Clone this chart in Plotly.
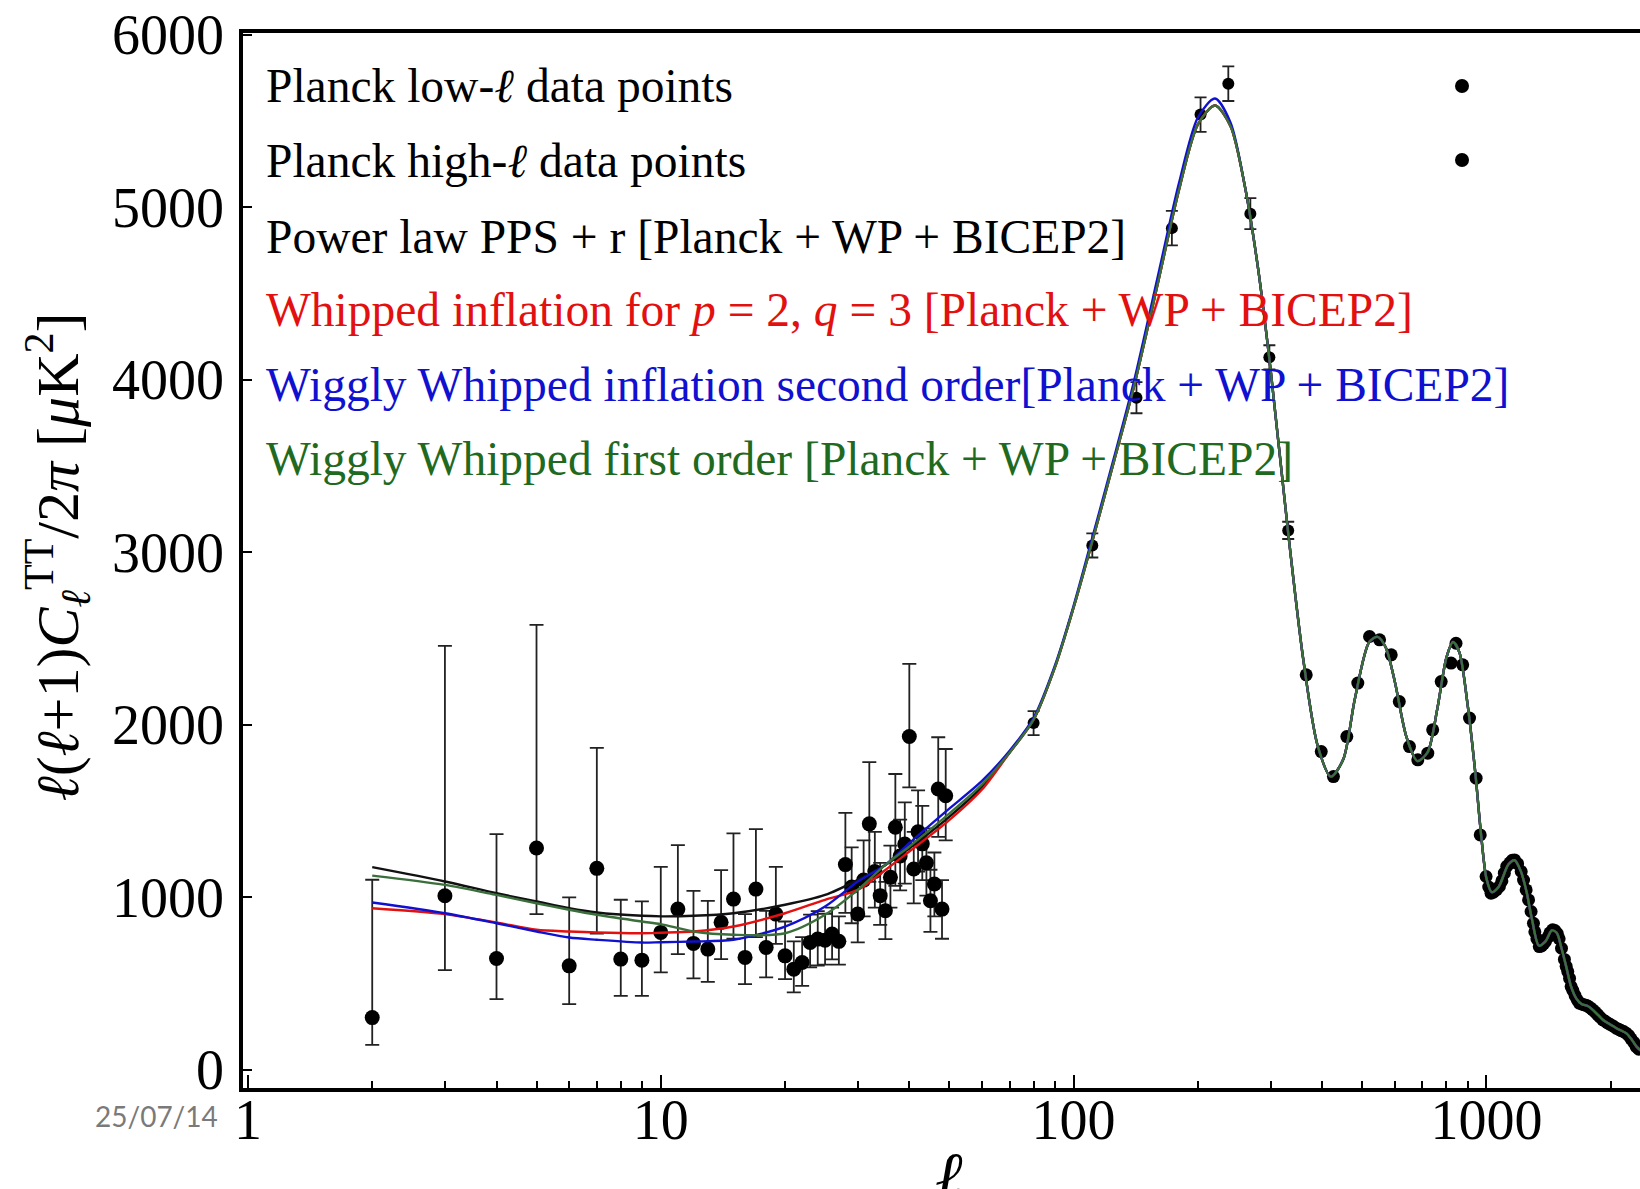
import plotly.graph_objects as go

# ---------------- Planck low-ell data points (ell = 2..49) ----------------
ell_low = list(range(2, 50))
D_low = [303, 1009, 646, 1286, 603, 1168, 642, 636, 797, 932,
         733, 700, 855, 990, 652, 1048, 709, 903, 661, 584,
         622, 739, 758, 752, 787, 745, 1190, 1060, 903, 1100,
         1426, 1150, 1010, 922, 1116, 1406, 1240, 1309, 1932, 1164,
         1380, 1310, 1200, 980, 1077, 1628, 932, 1589]
D_low_top = [1102, 2458, 1367, 2579, 1000, 1866, 986, 977, 1177, 1303,
             1038, 980, 1158, 1371, 903, 1396, 922, 1177, 860, 745,
             770, 900, 920, 905, 940, 890, 1490, 1290, 1090, 1330,
             1784, 1380, 1200, 1090, 1300, 1715, 1450, 1550, 2353, 1380,
             1620, 1530, 1400, 1160, 1260, 1928, 1100, 1860]
D_low_bottom = [145, 578, 410, 903, 381, 790, 429, 429, 565, 671,
                530, 510, 642, 760, 497, 770, 536, 730, 526, 449,
                487, 594, 605, 610, 640, 610, 910, 850, 739, 890,
                1090, 940, 840, 758, 940, 1067, 1040, 1080, 1638, 965,
                1150, 1100, 1010, 800, 890, 1350, 760, 1330]

# ---------------- Planck high-ell binned data points ----------------
# first acoustic peak (error bars visible)
ell_peak = [80, 111, 142, 173, 203, 237, 268, 298, 331]
D_peak = [2010, 3040, 3896, 4879, 5537, 5716, 4963, 4130, 3127]
D_peak_err = [70, 70, 90, 100, 100, 100, 90, 70, 50]

# damping tail
ell_tail = [366, 398, 426, 459, 488, 521, 551, 588, 615, 651,
            682, 721, 741, 777, 821, 844, 876, 910, 944, 966,
            998, 1013, 1026, 1040, 1058, 1075, 1090, 1105, 1120, 1140,
            1155, 1170, 1190, 1214, 1230, 1248, 1265, 1283, 1300, 1310,
            1325, 1343, 1360, 1375, 1390, 1410, 1425, 1447, 1465, 1485,
            1500, 1520, 1545, 1560, 1574, 1590, 1604, 1620, 1640, 1660,
            1679, 1700, 1720, 1740, 1760, 1785, 1809, 1835, 1860, 1885,
            1914, 1940, 1965, 1990, 2025, 2063, 2090, 2120, 2150, 2180,
            2210, 2240, 2275, 2305, 2340]
D_tail = [2290, 1845, 1700, 1932, 2242, 2512, 2493, 2406, 2135, 1874,
          1797, 1836, 1971, 2251, 2358, 2473, 2348, 2039, 1691, 1362,
          1121, 1060, 1024, 1030, 1045, 1063, 1095, 1140, 1180, 1200,
          1215, 1217, 1195, 1150, 1100, 1043, 985, 918, 850, 800,
          760, 715, 718, 730, 745, 770, 795, 812, 808, 790,
          760, 705, 640, 600, 570, 530, 483, 460, 430, 405,
          387, 382, 378, 375, 370, 360, 348, 335, 320, 305,
          290, 282, 272, 265, 255, 242, 236, 228, 222, 213,
          200, 180, 160, 135, 120]

# ---------------- Best-fit theory spectra ----------------
# large-scale part, where the four models differ
ell_th_low = [2, 3, 4, 5, 6, 7, 9, 10, 12, 15, 20, 25, 30, 35, 40, 49, 60]
D_black_low = [1175, 1092, 1024, 976, 937, 912, 893, 890, 893, 908, 957, 1014, 1101, 1188, 1285, 1449, 1640]
D_red_low = [937, 903, 854, 812, 802, 796, 792, 795, 802, 831, 908, 986, 1043, 1159, 1266, 1430, 1625]
D_blue_low = [970, 908, 850, 802, 767, 754, 738, 740, 744, 754, 831, 947, 1092, 1188, 1314, 1497, 1675]
D_green_low = [1126, 1072, 1014, 966, 928, 899, 860, 845, 802, 783, 792, 899, 1043, 1188, 1295, 1468, 1655]

# acoustic-peak part, common to all models
ell_th_high = [70, 80, 90, 100, 110, 125, 140, 160, 180,
               200, 220, 240, 260, 280, 300, 330, 360, 390, 420,
               450, 480, 520, 545, 570, 600, 640, 680, 720, 760,
               800, 830, 860, 900, 940, 970, 1000, 1030, 1070, 1130,
               1170, 1210, 1250, 1290, 1340, 1390, 1440, 1480, 1520, 1560,
               1600, 1650, 1700, 1760, 1810, 1860, 1920, 2000, 2060, 2120,
               2180, 2250, 2310, 2400]
D_th_high = [1840, 2030, 2330, 2680, 3030, 3520, 3960, 4560, 5100,
             5480, 5590, 5470, 5120, 4640, 4060, 3140, 2380, 1880, 1700,
             1800, 2150, 2480, 2510, 2450, 2250, 1930, 1790, 1840, 2090,
             2390, 2480, 2420, 2120, 1720, 1370, 1110, 1030, 1060, 1190,
             1215, 1155, 1035, 870, 720, 745, 808, 795, 705, 600,
             490, 415, 382, 370, 348, 320, 288, 262, 243, 228,
             213, 175, 135, 100]
D_blue_high = [1850, 2040, 2340, 2690, 3050, 3540, 3990, 4600, 5140,
               5520, 5630, 5490, 5120, 4640, 4060, 3140, 2380, 1880, 1700,
               1800, 2150, 2480, 2510, 2450, 2250, 1930, 1790, 1840, 2090,
               2390, 2480, 2420, 2120, 1720, 1370, 1110, 1030, 1060, 1190,
               1215, 1155, 1035, 870, 720, 745, 808, 795, 705, 600,
               490, 415, 382, 370, 348, 320, 288, 262, 243, 228,
               213, 175, 135, 100]

legend_lines = [
    ("Planck low-<i>ℓ</i> data points", "black"),
    ("Planck high-<i>ℓ</i> data points", "black"),
    ("Power law PPS + r [Planck + WP + BICEP2]", "black"),
    ("Whipped inflation for <i>p</i> = 2, <i>q</i> = 3 [Planck + WP + BICEP2]", "#e31010"),
    ("Wiggly Whipped inflation second order[Planck + WP + BICEP2]", "#1010d0"),
    ("Wiggly Whipped first order [Planck + WP + BICEP2]", "#1f6a1f"),
]

x_ticks = [1, 10, 100, 1000]
x_minor = [2, 3, 4, 5, 6, 7, 8, 9, 20, 30, 40, 50, 60, 70, 80, 90,
           200, 300, 400, 500, 600, 700, 800, 900, 2000]
y_ticks = [0, 1000, 2000, 3000, 4000, 5000, 6000]

SERIF = "Liberation Serif, Times New Roman, serif"

fig = go.Figure()

# low-ell points with asymmetric error bars
fig.add_trace(go.Scatter(
    x=ell_low, y=D_low, mode="markers",
    marker=dict(color="black", size=15),
    error_y=dict(type="data", symmetric=False,
                 array=[t - v for t, v in zip(D_low_top, D_low)],
                 arrayminus=[v - b for v, b in zip(D_low, D_low_bottom)],
                 color="#222", thickness=1.8, width=7),
    showlegend=False))

# high-ell binned points
fig.add_trace(go.Scatter(
    x=ell_peak, y=D_peak, mode="markers",
    marker=dict(color="black", size=12),
    error_y=dict(type="data", array=D_peak_err, color="#222", thickness=1.8, width=6),
    showlegend=False))
fig.add_trace(go.Scatter(
    x=ell_tail, y=D_tail, mode="markers",
    marker=dict(color="black", size=13),
    showlegend=False))

# theory curves
curves = [
    (D_black_low, D_th_high, "#111111"),
    (D_red_low, D_th_high, "#e31010"),
    (D_blue_low, D_blue_high, "#1010d0"),
    (D_green_low, D_th_high, "#3a6e3a"),
]
for low, high, col in curves:
    fig.add_trace(go.Scatter(
        x=ell_th_low + ell_th_high, y=low + high, mode="lines",
        line=dict(color=col, width=2.4, shape="spline", smoothing=0.8),
        showlegend=False))

# text legend
legend_y = [0.9498, 0.8784, 0.8071, 0.7377, 0.6664, 0.5960]
annotations = []
for (txt, col), yy in zip(legend_lines, legend_y):
    annotations.append(dict(x=0.015, y=yy, xref="paper", yref="paper", text=txt,
                            showarrow=False, xanchor="left", yanchor="middle",
                            font=dict(family=SERIF, size=47.5, color=col)))

# axis titles
annotations.append(dict(
    x=-0.1324, y=0.503, xref="paper", yref="paper", textangle=-90,
    text="<i>ℓ</i>(<i>ℓ</i>+1)<i>C</i><sub><i>ℓ</i></sub><sup>TT</sup>/2<i>π</i> [<i>μ</i>K<sup>2</sup>]",
    showarrow=False, xanchor="center", yanchor="middle",
    font=dict(family=SERIF, size=60, color="black")))
annotations.append(dict(
    x=0.5054, y=-0.046, xref="paper", yref="paper", text="<i>ℓ</i>",
    showarrow=False, xanchor="center", yanchor="top",
    font=dict(family=SERIF, size=66, color="black")))
# date stamp
annotations.append(dict(
    x=-0.0616, y=-0.0265, xref="paper", yref="paper", text="25/07/14",
    showarrow=False, xanchor="center", yanchor="middle",
    font=dict(family="Lato, Open Sans, sans-serif", size=28, color="#7a7a7a")))

# legend markers for the two data sets
shapes = []
for yy in [0.9498, 0.8796]:
    shapes.append(dict(type="circle", xref="paper", yref="paper",
                       xsizemode="pixel", ysizemode="pixel",
                       xanchor=0.8726, yanchor=yy,
                       x0=-7, x1=7, y0=-7, y1=7,
                       fillcolor="black", line=dict(width=0)))

fig.update_layout(
    width=1640, height=1189,
    margin=dict(l=243, r=0, t=33, b=101),
    paper_bgcolor="white", plot_bgcolor="white",
    annotations=annotations, shapes=shapes,
    xaxis=dict(type="log", range=[-0.012, 3.372],
               showline=True, linecolor="black", linewidth=3.5, mirror=True,
               ticks="inside", ticklen=13, tickwidth=2, tickcolor="black",
               tickvals=x_ticks, ticktext=[str(v) for v in x_ticks],
               tickfont=dict(family=SERIF, size=56, color="black"),
               ticklabelstandoff=-20,
               showgrid=False, zeroline=False,
               minor=dict(tickvals=x_minor, ticks="inside", ticklen=7,
                          tickwidth=1.6, tickcolor="black", showgrid=False)),
    yaxis=dict(range=[-105, 6010],
               showline=True, linecolor="black", linewidth=3.5, mirror=False,
               ticks="inside", ticklen=9, tickwidth=2, tickcolor="black",
               tickvals=y_ticks, ticktext=[str(v) for v in y_ticks],
               tickfont=dict(family=SERIF, size=56, color="black"),
               ticklabelstandoff=4,
               showgrid=False, zeroline=False),
)

fig.write_html("out.html")
